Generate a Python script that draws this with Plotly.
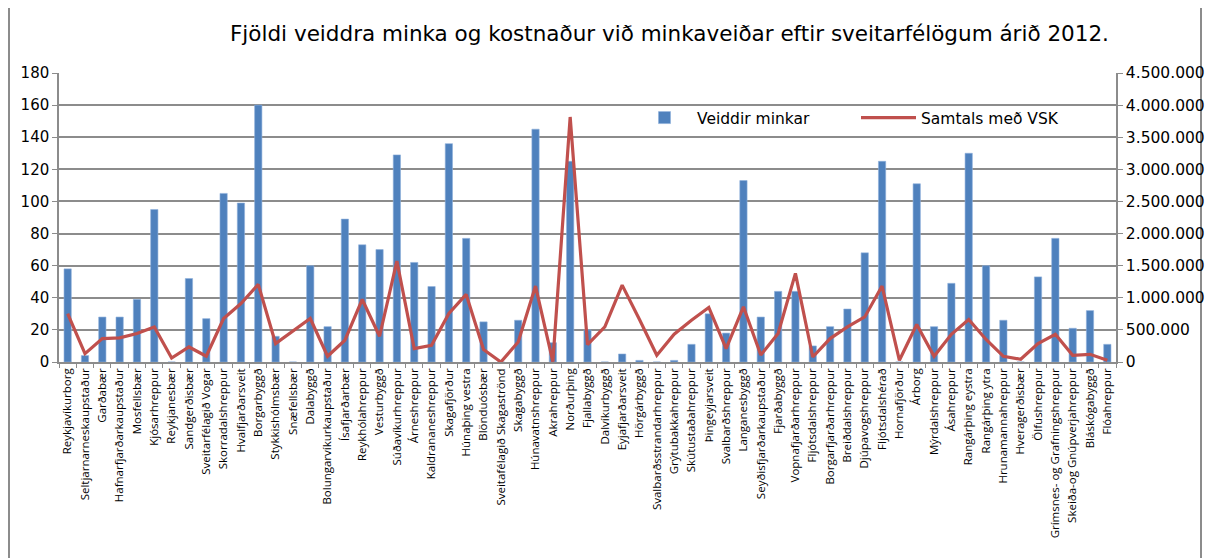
import plotly.graph_objects as go

sveitarfelog = [
    "Reykjavíkurborg", "Seltjarnarneskaupstaður", "Garðabær", "Hafnarfjarðarkaupstaður",
    "Mosfellsbær", "Kjósarhreppur", "Reykjanesbær", "Sandgerðisbær", "Sveitarfélagið Vogar",
    "Skorradalshreppur", "Hvalfjarðarsveit", "Borgarbyggð", "Stykkishólmsbær", "Snæfellsbær",
    "Dalabyggð", "Bolungarvíkurkaupstaður", "Ísafjarðarbær", "Reykhólahreppur", "Vesturbyggð",
    "Súðavíkurhreppur", "Árneshreppur", "Kaldrananeshreppur", "Skagafjörður", "Húnaþing vestra",
    "Blönduósbær", "Sveitafélagið Skagaströnd", "Skagabyggð", "Húnavatnshreppur", "Akrahreppur",
    "Norðurþing", "Fjallabyggð", "Dalvíkurbyggð", "Eyjafjarðarsveit", "Hörgárbyggð",
    "Svalbarðsstrandarhreppur", "Grýtubakkahreppur", "Skútustaðahreppur", "Þingeyjarsveit",
    "Svalbarðshreppur", "Langanesbyggð", "Seyðisfjarðarkaupstaður", "Fjarðabyggð",
    "Vopnafjarðarhreppur", "Fljótsdalshreppur", "Borgarfjarðarhreppur", "Breiðdalshreppur",
    "Djúpavogshreppur", "Fljótsdalshérað", "Hornafjörður", "Árborg", "Mýrdalshreppur",
    "Ásahreppur", "Rangárþing eystra", "Rangárþing ytra", "Hrunamannahreppur", "Hveragerðisbær",
    "Ölfushreppur", "Grímsnes- og Grafningshreppur", "Skeiða-og Gnúpverjahreppur",
    "Bláskógabyggð", "Flóahreppur",
]

veiddir_minkar = [
    58, 4, 28, 28, 39, 95, 0, 52, 27, 105, 99, 160, 16, 0, 60, 22, 89, 73, 70, 129,
    62, 47, 136, 77, 25, 0, 26, 145, 12, 125, 20, 0, 5, 1, 0, 1, 11, 30, 18, 113,
    28, 44, 44, 10, 22, 33, 68, 125, 0, 111, 22, 49, 130, 60, 26, 0, 53, 77, 21, 32, 11,
]

samtals_vsk = [
    755000, 131000, 365000, 375000, 443000, 546000, 62000, 234000, 89000, 677000,
    911000, 1208000, 287000, 484000, 677000, 89000, 339000, 974000, 401000, 1572000,
    209000, 261000, 755000, 1052000, 194000, 0, 312000, 1182000, 5000, 3815000,
    272000, 546000, 1197000, 662000, 105000, 432000, 651000, 849000, 209000, 859000,
    110000, 443000, 1380000, 78000, 365000, 546000, 702000, 1182000, 27000, 584000,
    89000, 432000, 662000, 350000, 89000, 42000, 287000, 432000, 105000, 120000, 27000,
]

BLUE = "#4f81bd"
RED = "#c0504d"
GRID = "#8c8c8c"
FONT = "DejaVu Sans"

# the page puts the plot 8px in from the top-left corner
OFF = 8
FW, FH = 1219 - OFF, 558 - OFF

fig = go.Figure()
fig.add_trace(go.Bar(
    x=sveitarfelog, y=veiddir_minkar, name="Veiddir minkar",
    marker=dict(color=BLUE, line=dict(color="#8eb0dc", width=0.6)),
))
fig.add_trace(go.Scatter(
    x=sveitarfelog, y=samtals_vsk, name="Samtals með VSK", yaxis="y2",
    mode="lines", line=dict(color=RED, width=3.2),
))

# plot area in screen pixels: x 59..1116, y 73..362
L, R, T, B = 59 - OFF, 1116 - OFF, 73 - OFF, 362 - OFF
W, H = R - L, B - T


def px(x):
    return (x - OFF - L) / W


def py(y):
    return (B - (y - OFF)) / H


fig.update_layout(
    width=FW, height=FH,
    margin=dict(l=L, r=FW - R, t=T, b=FH - B, autoexpand=False),
    paper_bgcolor="white", plot_bgcolor="white",
    separators=",.",
    font=dict(family=FONT, color="#000000"),
    bargap=0.58,
    showlegend=True,
    title=dict(
        text="Fjöldi veiddra minka og kostnaður við minkaveiðar eftir sveitarfélögum árið 2012.",
        font=dict(family=FONT, size=21.5, color="#000000"),
        x=(230 - OFF) / FW, xanchor="left", y=1 - (33 - OFF) / FH, yanchor="middle",
    ),
    legend=dict(
        orientation="h", x=px(632), xanchor="left", y=py(118), yanchor="middle",
        font=dict(family=FONT, size=15.5), bgcolor="rgba(0,0,0,0)",
        itemwidth=55, entrywidth=154, tracegroupgap=0,
    ),
    xaxis=dict(
        type="category", tickangle=-90, tickson="boundaries",
        ticks="outside", ticklen=4, tickcolor=GRID,
        showline=True, linecolor=GRID, linewidth=1.5,
        showgrid=False,
        tickfont=dict(family="Open Sans", size=11.5, color="#000000"),
        range=[-0.5, len(sveitarfelog) - 0.5],
    ),
    yaxis=dict(
        range=[0, 180], dtick=20, showgrid=True, gridcolor=GRID, gridwidth=1.5,
        showline=True, linecolor=GRID, linewidth=1.5,
        ticks="outside", ticklen=5, tickcolor=GRID,
        tickfont=dict(family=FONT, size=15), zeroline=False,
    ),
    yaxis2=dict(
        overlaying="y", side="right", range=[0, 4500000], dtick=500000,
        tickformat=",d", showgrid=False, zeroline=False,
        showline=True, linecolor=GRID, linewidth=1.5,
        ticks="outside", ticklen=5, tickcolor=GRID,
        tickfont=dict(family=FONT, size=15.5),
    ),
    shapes=[dict(
        type="rect", xref="paper", yref="paper",
        x0=px(9), x1=px(1201), y0=py(600), y1=py(7),
        line=dict(color="#8c8c8c", width=2), layer="below",
    )],
)

fig.write_html("out.html")
